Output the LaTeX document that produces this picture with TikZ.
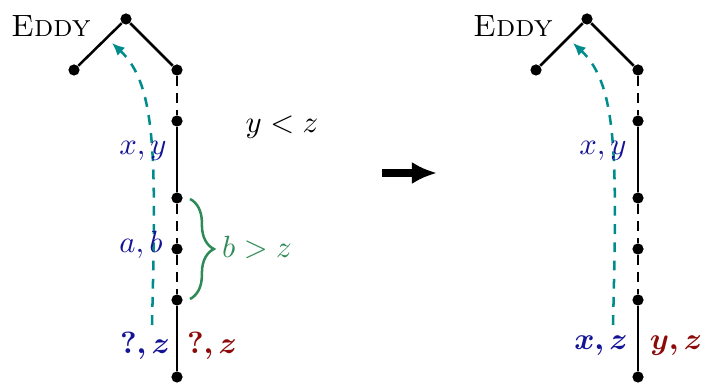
\documentclass[tikz,border=0pt]{standalone}
\usepackage{bm}
\usetikzlibrary{arrows.meta,decorations.pathreplacing}

\definecolor{varblue}{RGB}{20,20,150}
\definecolor{varred}{RGB}{140,10,10}
\definecolor{pathteal}{RGB}{0,140,140}
\definecolor{bracegreen}{RGB}{46,139,87}

\tikzset{
  vert/.style={circle, fill=black, inner sep=0pt, minimum size=4pt},
  edge/.style={line width=0.9pt},
  gapedge/.style={line width=0.9pt, dash pattern=on 3.5pt off 2.5pt},
  climb/.style={line width=0.9pt, pathteal, dash pattern=on 3.5pt off 3pt, -{Latex[length=4.5pt,width=4pt]}},
  lab/.style={varblue, inner sep=1pt},
}

\begin{document}
\begin{tikzpicture}[x=0.01255cm, y=-0.01255cm,
  every node/.append style={font=\fontsize{11}{13}\selectfont}]

  \useasboundingbox (0,0) rectangle (702,383);

  % Left tree
  \node[vert] (lt)  at (126, 19) {};
  \node[vert] (ll)  at ( 74, 70) {};
  \node[vert] (lr1) at (177, 70) {};
  \node[vert] (lr2) at (177,121) {};
  \node[vert] (lr3) at (177,198) {};
  \node[vert] (lr4) at (177,249) {};
  \node[vert] (lr5) at (177,300) {};
  \node[vert] (lr6) at (177,377) {};
  \draw[edge] (ll) -- (lt) -- (lr1);
  \draw[gapedge] (lr1) -- (lr2);
  \draw[edge] (lr2) -- (lr3);
  \draw[gapedge] (lr3) -- (lr4) -- (lr5);
  \draw[edge] (lr5) -- (lr6);
  \node (leddy) at (51, 26) {\textsc{Eddy}};

  % climb of the left tree
  \coordinate (ltail) at (152,325);
  \coordinate (lhead) at (112, 43);
  \draw[climb] (ltail) .. controls (156,160) and (157,85) .. (lhead);

  % Left labels
  \node[lab] (lxy) at (143,151) {$x,y$};
  \node[lab] (lab) at (141,245) {$a,b$};
  \node[lab] (lqz) at (145,346) {$\bm{?,z}$};
  \node[lab, varred] (lqzr) at (212,346) {$\bm{?,z}$};
  \node (lcmp) at (282,127) {$y<z$};

  % brace
  \coordinate (btop) at (190,199);
  \coordinate (bbot) at (190,299);
  \draw[bracegreen, line width=0.9pt, decorate, decoration={brace, amplitude=8.5pt}] (btop) -- (bbot);
  \node[bracegreen] (bcmp) at (257,247) {$b>z$};

  % Step arrow
  \coordinate (sfrom) at (382,173);
  \coordinate (sto)   at (437,173);
  \draw[line width=2.8pt, -{Latex[length=9pt,width=8pt]}] (sfrom) -- (sto);

  % Right tree
  \node[vert] (rt)  at (587, 19) {};
  \node[vert] (rl)  at (536, 70) {};
  \node[vert] (rr1) at (638, 70) {};
  \node[vert] (rr2) at (638,121) {};
  \node[vert] (rr3) at (638,198) {};
  \node[vert] (rr4) at (638,249) {};
  \node[vert] (rr5) at (638,300) {};
  \node[vert] (rr6) at (638,377) {};
  \draw[edge] (rl) -- (rt) -- (rr1);
  \draw[gapedge] (rr1) -- (rr2);
  \draw[edge] (rr2) -- (rr3);
  \draw[gapedge] (rr3) -- (rr4) -- (rr5);
  \draw[edge] (rr5) -- (rr6);
  \node (reddy) at (513, 26) {\textsc{Eddy}};

  % climb of the right tree
  \coordinate (rtail) at (613,325);
  \coordinate (rhead) at (573, 43);
  \draw[climb] (rtail) .. controls (617,160) and (618,85) .. (rhead);

  % Right labels
  \node[lab] (rxy) at (603,151) {$x,y$};
  \node[lab] (rxz) at (601,346) {$\bm{x,z}$};
  \node[lab, varred] (ryz) at (676,346) {$\bm{y,z}$};

\end{tikzpicture}
\end{document}
